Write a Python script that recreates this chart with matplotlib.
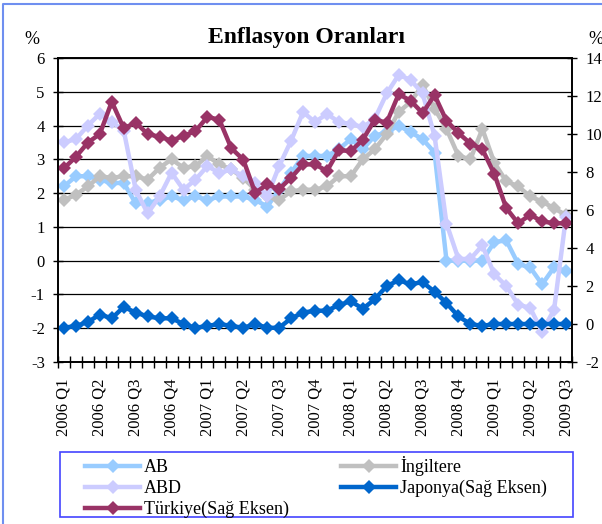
import matplotlib
matplotlib.use('Agg')
import matplotlib.pyplot as plt
import numpy as np
from matplotlib.patches import Rectangle
from matplotlib.lines import Line2D

plt.rcParams['font.family'] = ['Liberation Serif', 'DejaVu Serif']
plt.rcParams['axes.unicode_minus'] = False

# ---- data (monthly, left axis: AB, İngiltere, ABD; right axis: Japonya, Türkiye) ----
quarter_labels = ["2006 Q1", "2006 Q2", "2006 Q3", "2006 Q4",
                  "2007 Q1", "2007 Q2", "2007 Q3", "2007 Q4",
                  "2008 Q1", "2008 Q2", "2008 Q3", "2008 Q4",
                  "2009 Q1", "2009 Q2", "2009 Q3"]

ab = [2.2, 2.5, 2.5, 2.4, 2.3, 2.3, 1.7, 1.7, 1.8, 1.9,
      1.8, 1.9, 1.8, 1.9, 1.9, 1.9, 1.8, 1.6, 2.1, 2.6,
      3.1, 3.1, 3.1, 3.3, 3.6, 3.3, 3.7, 3.8, 4.0, 3.8,
      3.6, 3.2, 0.0, 0.0, 0.0, 0.0, 0.55, 0.6, -0.1, -0.2,
      -0.7, -0.2, -0.3]

ingiltere = [1.8, 1.95, 2.2, 2.5, 2.45, 2.5, 2.5, 2.4, 2.75, 3.0,
             2.75, 2.8, 3.1, 2.85, 2.7, 2.45, 2.1, 1.9, 1.8, 2.05,
             2.1, 2.1, 2.2, 2.5, 2.5, 3.0, 3.3, 3.75, 4.4, 4.7,
             5.2, 4.5, 3.9, 3.1, 3.0, 3.9, 2.9, 2.35, 2.2, 1.9,
             1.75, 1.55, 1.35]

abd = [3.5, 3.6, 4.0, 4.35, 4.1, 3.85, 2.1, 1.4, 1.9, 2.6,
       2.1, 2.4, 2.8, 2.6, 2.7, 2.5, 2.3, 1.9, 2.8, 3.55,
       4.4, 4.1, 4.35, 4.1, 4.05, 3.95, 4.2, 4.95, 5.5, 5.35,
       4.95, 3.7, 1.1, 0.05, 0.05, 0.45, -0.4, -0.75, -1.3, -1.4,
       -2.1, -1.45, 1.3]

japonya = [-0.2, -0.1, 0.1, 0.5, 0.3, 0.9, 0.6, 0.4, 0.3, 0.3,
           0.0, -0.2, -0.1, 0.0, -0.1, -0.2, 0.0, -0.2, -0.2, 0.3,
           0.6, 0.7, 0.7, 1.0, 1.2, 0.8, 1.3, 2.0, 2.3, 2.1,
           2.2, 1.7, 1.1, 0.4, 0.0, -0.1, 0.0, 0.0, 0.0, 0.0,
           0.0, 0.0, 0.0]

turkiye = [8.2, 8.8, 9.55, 10.0, 11.7, 10.3, 10.6, 10.0, 9.85, 9.65,
           9.9, 10.15, 10.9, 10.75, 9.25, 8.65, 6.9, 7.35, 7.1, 7.7,
           8.4, 8.4, 8.05, 9.15, 9.1, 9.7, 10.75, 10.6, 12.1, 11.75,
           11.1, 12.05, 10.7, 10.05, 9.5, 9.2, 7.9, 6.1, 5.3, 5.75,
           5.4, 5.3, 5.3]

colors = {"AB": "#99CCFF", "İngiltere": "#C0C0C0", "ABD": "#CCCCFF",
          "Japonya(Sağ Eksen)": "#0066CC", "Türkiye(Sağ Eksen)": "#993366"}

n = len(ab)
x = np.arange(n)

W, H = 602, 524
fig = plt.figure(figsize=(W / 100, H / 100), dpi=100)

def fx(px):
    return px / W

def fy(py):
    return 1 - py / H

ax = fig.add_axes([fx(58), fy(362), fx(572) - fx(58), fy(58) - fy(362)])
ax2 = ax.twinx()

kw = dict(lw=3.2, marker='D', ms=7, mew=0)
l_ab, = ax.plot(x, ab, color=colors["AB"], label="AB", **kw)
l_uk, = ax.plot(x, ingiltere, color=colors["İngiltere"], label="İngiltere", **kw)
l_us, = ax.plot(x, abd, color=colors["ABD"], label="ABD", **kw)
l_jp, = ax2.plot(x, japonya, color=colors["Japonya(Sağ Eksen)"], label="Japonya(Sağ Eksen)", **kw)
l_tr, = ax2.plot(x, turkiye, color=colors["Türkiye(Sağ Eksen)"], label="Türkiye(Sağ Eksen)", **kw)

ax.set_xlim(-0.5, n - 0.5)
ax.set_ylim(-3, 6)
ax2.set_ylim(-2, 14)
ax.set_yticks(range(-3, 7))
ax2.set_yticks(range(-2, 15, 2))
ax.grid(axis='y', color='black', lw=0.9)
ax.set_axisbelow(True)

ax.set_xticks(np.arange(0, n, 3))
ax.set_xticklabels(quarter_labels, rotation=90)
ax.set_xticks(np.arange(-0.5, n, 1), minor=True)
ax.tick_params(axis='x', which='major', length=0, pad=12, labelsize=12)
ax.tick_params(axis='x', which='minor', direction='inout', length=8, width=1)
ax.tick_params(axis='y', direction='inout', length=7, width=1, labelsize=12, pad=6)
ax2.tick_params(axis='y', direction='inout', length=7, width=1, labelsize=12, pad=6)

for a in (ax, ax2):
    for s in a.spines.values():
        s.set_color('black')
        s.set_linewidth(1.2)

fig.text(fx(306), fy(37), "Enflasyon Oranları", ha='center', va='center',
         fontsize=17, fontweight='bold')
fig.text(fx(32), fy(39), "%", ha='center', va='center', fontsize=13)
fig.text(fx(596), fy(39), "%", ha='center', va='center', fontsize=13)

leg = fig.legend(handles=[l_ab, l_us, l_tr, l_uk, l_jp], ncol=2, frameon=False,
                 loc='upper left', bbox_to_anchor=(fx(85), fy(456)),
                 bbox_transform=fig.transFigure, borderpad=0, borderaxespad=0,
                 fontsize=13, handlelength=3.05, handletextpad=0.22,
                 columnspacing=2.9, labelspacing=0.22)

fig.patches.append(Rectangle((fx(60), fy(517)), fx(573) - fx(60), fy(452) - fy(517),
                             transform=fig.transFigure, fill=False,
                             edgecolor='#4444ff', lw=1.2))
fig.lines.append(Line2D([fx(3), fx(3), 1.0], [0.0, fy(4), fy(4)],
                        transform=fig.transFigure, color='#6f8ff0', lw=1.5))

fig.savefig('out.png', dpi=100)
